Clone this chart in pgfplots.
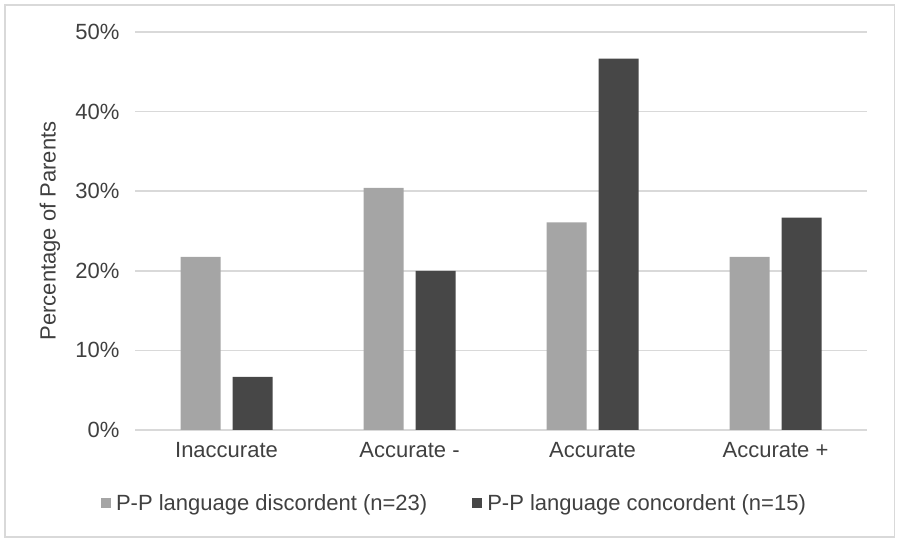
\documentclass[border=0pt]{standalone}
\usepackage{pgfplots}
\pgfplotsset{compat=1.18}
\usepackage{fontspec}
\setmainfont{Liberation Sans}
\definecolor{barA}{HTML}{A5A5A5}
\definecolor{barB}{HTML}{474747}
\definecolor{gridc}{HTML}{D9D9D9}
\definecolor{txt}{HTML}{404040}
\begin{document}
\begin{tikzpicture}
\path[use as bounding box] (0,0) rectangle (900bp,545bp);
\draw[gridc, line width=1.5bp] (5bp,8bp) rectangle (894.5bp,540bp);
\begin{axis}[
  at={(135bp,115bp)}, anchor=south west,
  scale only axis, width=732bp, height=398bp,
  xmin=-0.5, xmax=3.5, ymin=0, ymax=50,
  ybar, bar width=40bp,
  axis line style={draw=none},
  ytick={0,10,20,30,40,50},
  ymajorgrids, grid style={gridc, line width=1.5bp},
  major tick length=0pt,
  xtick={0,1,2,3},
  xticklabels={Inaccurate, Accurate -, Accurate, Accurate +},
  yticklabel={\pgfmathprintnumber{\tick}\%},
  /pgf/number format/assume math mode=true,
  tick label style={font=\fontsize{22bp}{26bp}\selectfont, text=txt},
  xticklabel style={yshift=-9bp},
  yticklabel style={xshift=-12bp},
  ylabel={Percentage of Parents},
  ylabel style={at={(axis description cs:-0.1161,0.5)}, anchor=center, font=\fontsize{22bp}{26bp}\selectfont, text=txt},
  legend columns=2,
  legend style={at={(axis description cs:0.4385,-0.1834)}, anchor=center, draw=none, fill=none,
    font=\fontsize{22bp}{26bp}\selectfont, text=txt,
    nodes={inner xsep=5bp},
    /tikz/every even column/.append style={column sep=40bp}},
  legend image code/.code={\fill[#1] (0bp,-5bp) rectangle (10bp,5bp);},
]
\addplot[fill=barA, draw=none, bar shift=-26bp] coordinates {(0,21.74) (1,30.43) (2,26.09) (3,21.74)};
\addplot[fill=barB, draw=none, bar shift=26bp] coordinates {(0,6.67) (1,20.0) (2,46.67) (3,26.67)};
\legend{P-P language discordent (n=23), P-P language concordent (n=15)}
\end{axis}
\end{tikzpicture}
\end{document}
